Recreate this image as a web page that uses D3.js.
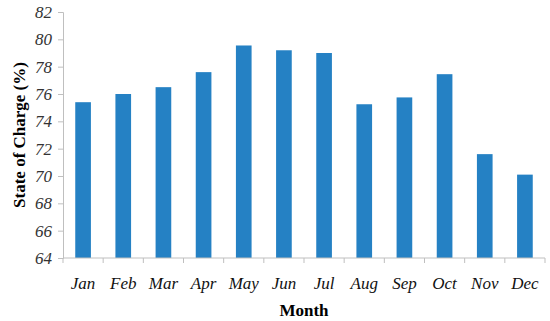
<!DOCTYPE html>
<html lang="en">
  <head>
    <meta charset="UTF-8" />
    <title>State of Charge by Month</title>
    <style>
      body {
        margin: 0;
        background: #fff;
      }
    </style>
  </head>
  <body>
    <svg id="chart" width="550" height="321"></svg>
    <script src="https://d3js.org/d3.v7.min.js"></script>
    <script>
      const months = ["Jan", "Feb", "Mar", "Apr", "May", "Jun", "Jul", "Aug", "Sep", "Oct", "Nov", "Dec"];
      const stateOfCharge = [75.4, 76.0, 76.5, 77.6, 79.55, 79.2, 79.0, 75.25, 75.75, 77.45, 71.6, 70.1];
      const yTicks = [64, 66, 68, 70, 72, 74, 76, 78, 80, 82];

      const serif = "'Liberation Serif', 'Times New Roman', 'DejaVu Serif', serif";
      const svg = d3.select("#chart");
      const margin = { top: 12, right: 5, bottom: 63, left: 63 };
      const width = 550 - margin.left - margin.right;
      const height = 321 - margin.top - margin.bottom;
      const axisColor = "#bfbfbf";

      const g = svg.append("g").attr("transform", `translate(${margin.left},${margin.top})`);

      const x = d3.scaleBand().domain(months).range([0, width]).paddingInner(0.61).paddingOuter(0.305);
      const y = d3.scaleLinear().domain([64, 82]).range([height, 0]);

      // bars
      g.selectAll("rect.bar")
        .data(stateOfCharge)
        .join("rect")
        .attr("class", "bar")
        .attr("x", (d, i) => x(months[i]))
        .attr("y", (d) => y(d))
        .attr("width", x.bandwidth())
        .attr("height", (d) => height - y(d))
        .attr("fill", "#2581c4");

      // y axis
      const yAxis = g.append("g")
        .call(d3.axisLeft(y).tickValues(yTicks).tickSize(5).tickPadding(6))
        .attr("font-family", serif)
        .attr("font-size", 17);
      yAxis.select(".domain").attr("stroke", axisColor);
      yAxis.selectAll(".tick line").attr("stroke", axisColor);
      yAxis.selectAll(".tick text")
        .attr("fill", "#333")
        .attr("font-style", "italic");

      // x axis: ticks at band boundaries
      const xAxisG = g.append("g").attr("transform", `translate(0,${height})`);
      xAxisG.append("line")
        .attr("x1", 0).attr("x2", width)
        .attr("stroke", axisColor);
      const step = x.step();
      xAxisG.selectAll("line.tick")
        .data(d3.range(months.length + 1))
        .join("line")
        .attr("class", "tick")
        .attr("x1", (i) => i * step).attr("x2", (i) => i * step)
        .attr("y1", 0).attr("y2", 5)
        .attr("stroke", axisColor);
      xAxisG.selectAll("text")
        .data(months)
        .join("text")
        .attr("x", (d) => x(d) + x.bandwidth() / 2)
        .attr("y", 31)
        .attr("text-anchor", "middle")
        .attr("fill", "#111")
        .attr("font-family", serif)
        .attr("font-size", 17)
        .attr("font-style", "italic")
        .text((d) => d);

      // axis titles
      svg.append("text")
        .attr("x", margin.left + width / 2)
        .attr("y", 316)
        .attr("text-anchor", "middle")
        .attr("font-family", serif)
        .attr("font-size", 17)
        .attr("font-weight", "bold")
        .text("Month");

      svg.append("text")
        .attr("transform", `translate(25,${margin.top + height / 2}) rotate(-90)`)
        .attr("text-anchor", "middle")
        .attr("font-family", serif)
        .attr("font-size", 17)
        .attr("font-weight", "bold")
        .text("State of Charge (%)");
    </script>
  </body>
</html>
